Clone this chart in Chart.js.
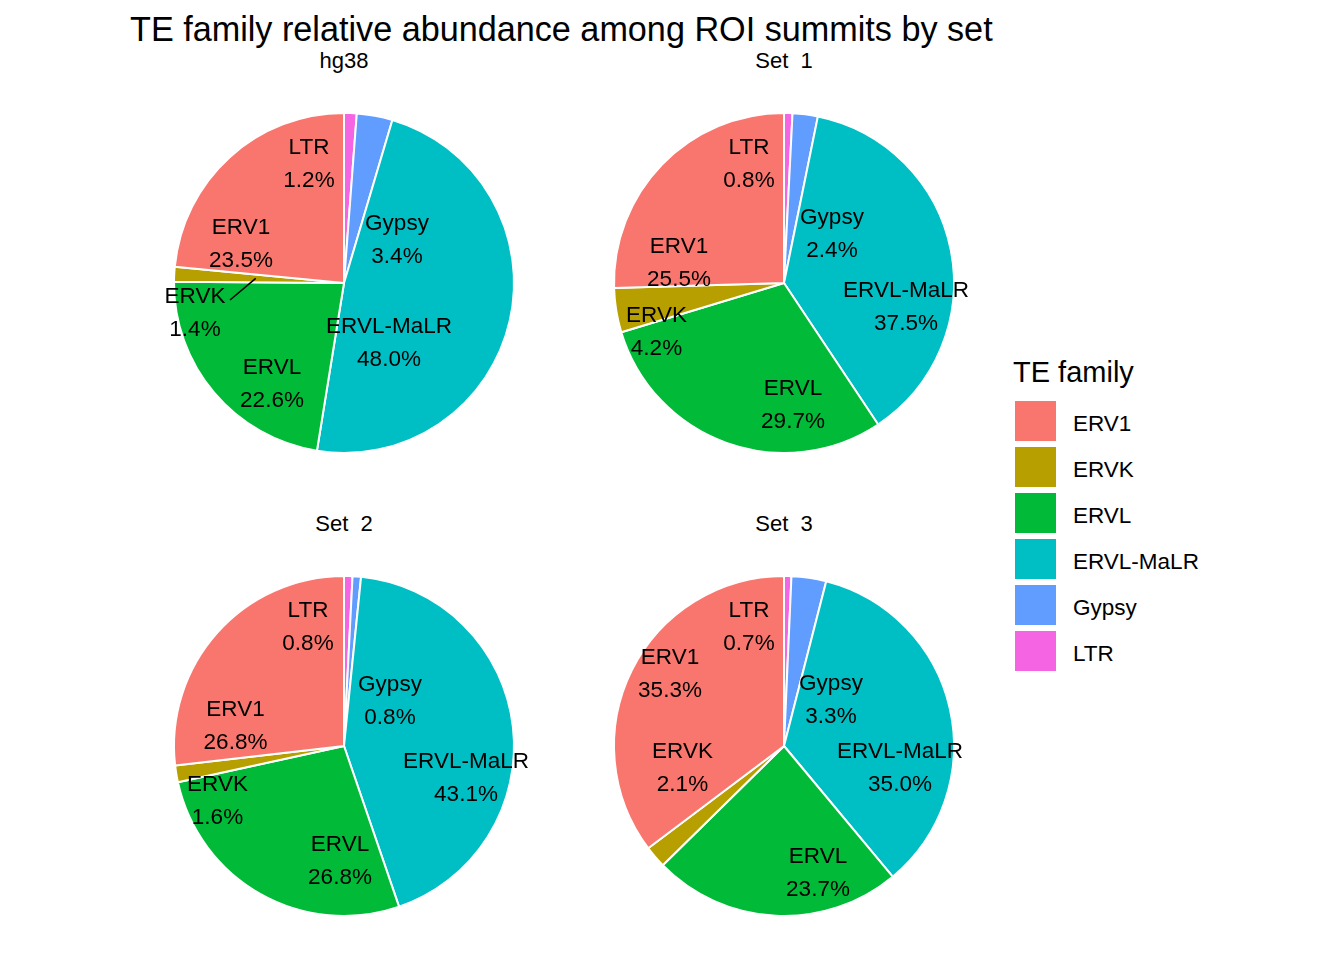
<!DOCTYPE html>
<html lang="en">
<head>
  <meta charset="UTF-8">
  <title>TE family relative abundance among ROI summits by set</title>
  <script src="https://cdn.jsdelivr.net/npm/chart.js"></script>
  <style>
    body { margin: 0; background: white; font-family: "Liberation Sans", Arial, sans-serif; }
    #page { position: relative; width: 1344px; height: 960px; overflow: hidden; background: white; }
    .txt { position: absolute; white-space: pre; color: #000; }
    .mid { transform: translateX(-50%); }
    .key { position: absolute; width: 41px; height: 40px; }
    canvas { position: absolute; }
  </style>
</head>
<body>
  <div id="page"></div>

  <script>
    // data
    const families = ["ERV1", "ERVK", "ERVL", "ERVL-MaLR", "Gypsy", "LTR"];
    const famColors = ["#F8766D", "#B79F00", "#00BA38", "#00BFC4", "#619CFF", "#F564E3"];
    const panelNames = ["hg38", "Set  1", "Set  2", "Set  3"];
    const hg38Pct = [23.5, 1.4, 22.6, 48.0, 3.4, 1.2];
    const set1Pct = [25.5, 4.2, 29.7, 37.5, 2.4, 0.8];
    const set2Pct = [26.8, 1.6, 26.8, 43.1, 0.8, 0.8];
    const set3Pct = [35.3, 2.1, 23.7, 35.0, 3.3, 0.7];
    const panelPct = [hg38Pct, set1Pct, set2Pct, set3Pct];

    // layout (pixels)
    const centers = [[344, 283], [784, 283], [344, 746], [784, 746]];
    // label offsets from pie centre, in family order (repelled positions)
    const labelOffsets = [
      [[-103, -40], [-149, 29.5], [-72, 100], [45, 59.5], [53, -44], [-35, -120]],
      [[-105, -21], [-127.5, 48], [9, 121], [122, 23], [48, -49.5], [-35, -120]],
      [[-108.5, -21], [-126.5, 54], [-4, 114.5], [122, 31], [46, -46], [-36, -120]],
      [[-114, -73], [-101.5, 21], [34, 126], [116, 21.5], [47, -47], [-35, -120]]
    ];
    const leaders = [{ panel: 0, fam: 1, dx: -114, dy: 17 }];
    const FONT = '"Liberation Sans", Arial, sans-serif';

    const page = document.getElementById("page");

    function addText(str, x, y, size, centred) {
      const d = document.createElement("div");
      d.className = "txt" + (centred ? " mid" : "");
      d.textContent = str;
      d.style.fontSize = size + "px";
      d.style.lineHeight = (size * 1.2) + "px";
      d.style.left = x + "px";
      d.style.top = (y - size * 0.6) + "px";
      page.appendChild(d);
    }

    addText("TE family relative abundance among ROI summits by set", 130, 30, 34.2, false);

    // legend
    addText("TE family", 1013, 372, 29, false);
    families.forEach((f, i) => {
      const k = document.createElement("div");
      k.className = "key";
      k.style.left = "1015px";
      k.style.top = (401 + 46 * i) + "px";
      k.style.background = famColors[i];
      page.appendChild(k);
      addText(f, 1073, 423 + 46 * i, 22.5, false);
    });

    const drawOrder = families.map((f, i) => i).reverse();

    const labelPlugin = {
      id: "pieLabels",
      afterDatasetsDraw(chart) {
        const p = chart.config.options.panelIndex;
        const ctx = chart.ctx;
        const arcs = chart.getDatasetMeta(0).data;
        ctx.save();
        ctx.fillStyle = "#000";
        ctx.font = "22.5px " + FONT;
        ctx.textAlign = "center";
        ctx.textBaseline = "middle";
        arcs.forEach((arc, j) => {
          const fi = drawOrder[j];
          const [ox, oy] = labelOffsets[p][fi];
          const x = arc.x + ox, y = arc.y + oy + 1;
          ctx.fillText(families[fi], x, y - 16.5);
          ctx.fillText(panelPct[p][fi].toFixed(1) + "%", x, y + 16.5);
          leaders.filter(l => l.panel === p && l.fam === fi).forEach(l => {
            const a = (arc.startAngle + arc.endAngle) / 2;
            const r = arc.outerRadius * 0.52;
            ctx.strokeStyle = "#000";
            ctx.lineWidth = 1.5;
            ctx.beginPath();
            ctx.moveTo(arc.x + l.dx, arc.y + l.dy);
            ctx.lineTo(arc.x + Math.cos(a) * r, arc.y + Math.sin(a) * r);
            ctx.stroke();
          });
        });
        ctx.restore();
      }
    };

    panelNames.forEach((name, p) => {
      const [cx, cy] = centers[p];
      addText(name, cx, cy - 222, 22, true);

      const cv = document.createElement("canvas");
      cv.width = 400;
      cv.height = 400;
      cv.style.left = (cx - 200) + "px";
      cv.style.top = (cy - 200) + "px";
      page.appendChild(cv);

      new Chart(cv.getContext("2d"), {
        type: "pie",
        data: {
          labels: drawOrder.map(i => families[i]),
          datasets: [{
            data: drawOrder.map(i => panelPct[p][i]),
            backgroundColor: drawOrder.map(i => famColors[i]),
            borderColor: "white",
            borderWidth: 2
          }]
        },
        options: {
          panelIndex: p,
          responsive: false,
          animation: false,
          devicePixelRatio: 1,
          layout: { padding: 29 },
          plugins: { legend: { display: false }, tooltip: { enabled: false } }
        },
        plugins: [labelPlugin]
      });
    });
  </script>
</body>
</html>
